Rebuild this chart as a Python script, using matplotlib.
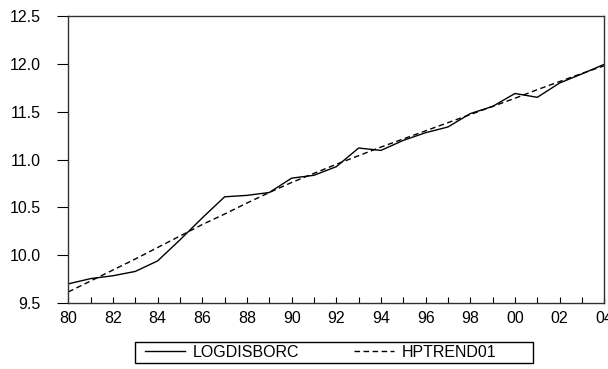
import matplotlib
matplotlib.use("Agg")
import matplotlib.pyplot as plt
from matplotlib.patches import Rectangle
from matplotlib.ticker import MultipleLocator, FixedLocator

plt.rcParams['font.family'] = ['Liberation Sans', 'DejaVu Sans']

years = list(range(1980, 2005))
logdisborc = [9.70, 9.755, 9.785, 9.83, 9.94, 10.16, 10.39, 10.61, 10.625, 10.655,
              10.805, 10.835, 10.925, 11.12, 11.095, 11.20, 11.28, 11.34, 11.48, 11.555,
              11.69, 11.65, 11.80, 11.895, 11.995]
hptrend01 = [9.616, 9.73, 9.845, 9.96, 10.08, 10.20, 10.32, 10.43, 10.545, 10.655,
             10.76, 10.855, 10.95, 11.04, 11.13, 11.215, 11.30, 11.385, 11.47, 11.555,
             11.64, 11.73, 11.815, 11.90, 11.98]
xtick_labels = ['80', '82', '84', '86', '88', '90', '92', '94', '96', '98', '00', '02', '04']
ytick_values = [9.5, 10.0, 10.5, 11.0, 11.5, 12.0, 12.5]

W, H = 608, 369
FS = 11.5
fig = plt.figure(figsize=(W / 100, H / 100), dpi=100)
ax = fig.add_axes([68.3 / W, 1 - 303 / H, (604.3 - 68.3) / W, (303 - 16) / H])

ax.plot(years, logdisborc, color='black', lw=1.0, label='LOGDISBORC')
ax.plot(years, hptrend01, color='black', lw=1.0, ls=(0, (4, 2.5)), label='HPTREND01')

ax.set_xlim(1980, 2004)
ax.set_ylim(9.5, 12.5)

ax.xaxis.set_major_locator(FixedLocator(list(range(1980, 2005, 2))))
ax.set_xticklabels(xtick_labels)
ax.xaxis.set_minor_locator(MultipleLocator(1))
ax.tick_params(axis='x', which='both', direction='in', length=4, width=0.8,
               labelsize=FS, pad=6, colors='black')

ax.set_yticks(ytick_values)
ax.set_yticklabels([f'{v:.1f}' for v in ytick_values])
ax.tick_params(axis='y', which='major', direction='out', length=8, width=0.8,
               labelsize=FS, pad=12, colors='black')

for sp in ax.spines.values():
    sp.set_linewidth(1.0)
    sp.set_color('#333333')

# legend box drawn as a plain rectangle, entries laid out inside it
fig.patches.append(Rectangle((135 / W, 1 - 363 / H), (533 - 135) / W, 21 / H,
                             transform=fig.transFigure, fill=False,
                             edgecolor='black', lw=1.0))
leg = fig.legend(loc='center left', bbox_to_anchor=(145 / W, 1 - 352.5 / H), ncol=2,
                 frameon=False, fontsize=FS, handlelength=2.5,
                 columnspacing=3.4, borderpad=0, borderaxespad=0, handletextpad=0.5)

fig.savefig('out.png', dpi=100)
